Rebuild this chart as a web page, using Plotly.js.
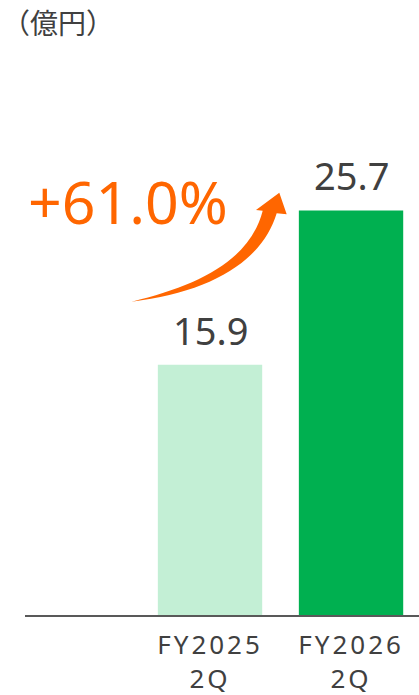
<!DOCTYPE html>
<html>
<head>
<meta charset="utf-8">
<script src="https://cdn.plot.ly/plotly-3.0.1.min.js"></script>
<style>
html,body{margin:0;padding:0;background:#fff;}
#chart{width:419px;height:695px;}
.xtick text{letter-spacing:3px;}
</style>
</head>
<body>
<div id="chart"></div>
<script>
// ---- data ----
const categories = ['FY2025<br>2Q', 'FY2026<br>2Q'];
const values = [15.9, 25.7];
const valueLabels = ['15.9', '25.7'];
const barColors = ['#C3EFD5', '#00B050'];
const growthLabel = '+61.0%';
const unitLabel = '（億円）';

// ---- layout geometry ----
const W = 419, H = 695;
const M = {l: 25, r: 0, t: 0, b: 80};
const plotW = W - M.l - M.r, plotH = H - M.t - M.b;
// pixel -> paper helpers (for decorations only)
const px = x => (x - M.l) / plotW;
const py = y => (M.t + plotH - y) / plotH;

const trace = {
  type: 'bar',
  x: categories,
  y: values,
  marker: {color: barColors, line: {width: 0}},
  width: 0.74,
  hoverinfo: 'none'
};

const labelAnns = categories.map((c, i) => ({
  x: c, y: values[i], xref: 'x', yref: 'y',
  text: valueLabels[i], showarrow: false,
  yanchor: 'bottom', xanchor: 'center', yshift: 7,
  font: {family: 'Noto Sans, sans-serif', size: 38, color: '#404040'}
}));

// curved tapered arrow (decoration)
function P(x, y) { return px(x).toFixed(5) + ',' + py(y).toFixed(5); }
const arrowPath =
  'M' + P(131.7, 301.7) +
  ' C' + P(200, 285) + ' ' + P(250, 260) + ' ' + P(262.7, 210.7) +
  ' L' + P(256, 210) +
  ' L' + P(279.3, 192.7) +
  ' L' + P(286.7, 214.3) +
  ' L' + P(276.7, 213.3) +
  ' C' + P(262, 262) + ' ' + P(210, 292) + ' ' + P(131.7, 301.7) + ' Z';

const layout = {
  width: W, height: H,
  margin: M,
  paper_bgcolor: '#fff', plot_bgcolor: '#fff',
  showlegend: false,
  xaxis: {
    type: 'category',
    range: [-1.312, 1.482],
    showline: true, linecolor: '#595959', linewidth: 1.5,
    showgrid: false, zeroline: false, ticks: '',
    ticklabelstandoff: 6,
    tickfont: {family: 'Noto Sans, sans-serif', size: 26, color: '#404040'},
    fixedrange: true
  },
  yaxis: {
    range: [0, 39.07],
    showticklabels: false, showgrid: false, zeroline: false, showline: false,
    fixedrange: true
  },
  annotations: labelAnns.concat([
    {
      xref: 'paper', yref: 'paper', x: px(0), y: py(0),
      xanchor: 'left', yanchor: 'top', showarrow: false,
      text: unitLabel,
      font: {family: 'Noto Sans CJK JP, sans-serif', size: 28, color: '#404040'}
    },
    {
      xref: 'paper', yref: 'paper', x: px(26), y: py(243),
      xanchor: 'left', yanchor: 'bottom', showarrow: false,
      text: growthLabel,
      font: {family: 'Noto Sans, sans-serif', size: 59, color: '#FF6600', weight: 'normal'}
    }
  ]),
  shapes: [{
    type: 'path', xref: 'paper', yref: 'paper',
    path: arrowPath, fillcolor: '#FF6600', line: {width: 0}, layer: 'above'
  }]
};

Plotly.newPlot('chart', [trace], layout, {displayModeBar: false, staticPlot: true});
</script>
</body>
</html>
